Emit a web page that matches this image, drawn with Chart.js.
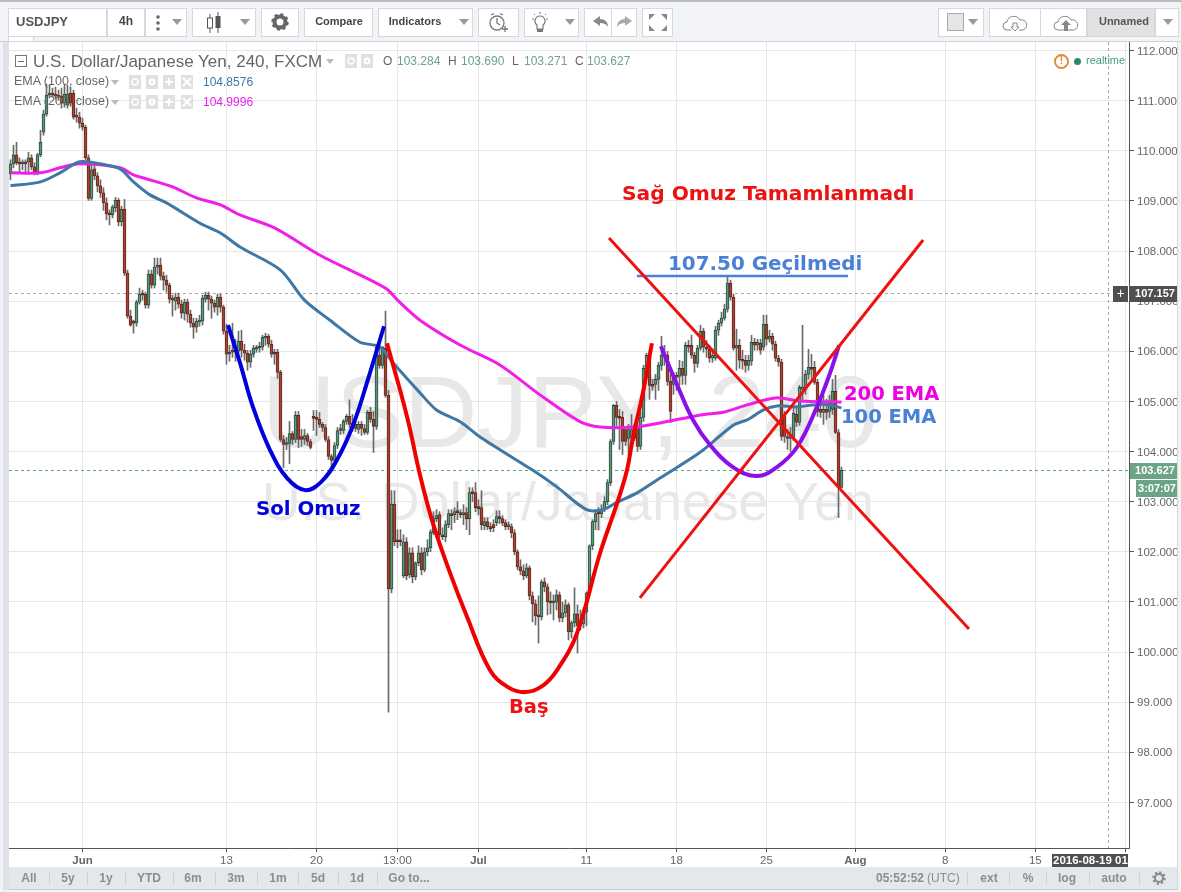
<!DOCTYPE html>
<html><head><meta charset="utf-8">
<script src="https://cdn.jsdelivr.net/npm/chart.js@4"></script>
<style>
html,body{margin:0;padding:0;width:1181px;height:892px;overflow:hidden;background:#f1f3f6;font-family:"Liberation Sans",Arial,sans-serif}
#pane{position:absolute;left:9px;top:42px;width:1169px;height:847px;background:#fff}
canvas{position:absolute;left:0;top:0}
#ui{position:absolute;left:0;top:0;width:1181px;height:892px;pointer-events:none}
#ui div{position:absolute;box-sizing:border-box}
#ui svg{position:absolute}
.t{white-space:nowrap;line-height:1}
</style></head><body>
<div id="pane"></div>
<canvas id="c" width="1181" height="892"></canvas>
<div id="ui"></div>
<script>
const opens=[
109.54,109.74,109.92,109.78,109.74,109.78,109.78,109.86,109.68,109.58,
109.92,110.37,110.73,111.11,111.15,111.13,111.11,111.09,110.95,110.91,
111.15,111.15,110.69,110.67,110.55,110.47,109.86,109.05,109.64,109.50,
109.30,109.16,108.96,108.76,108.72,108.86,109.01,108.58,108.83,107.56,
106.70,106.58,106.56,106.98,107.14,107.14,106.92,107.54,107.32,107.68,
107.72,107.50,107.42,107.32,107.04,107.00,107.08,106.94,106.76,106.98,
106.74,106.56,106.48,106.58,106.60,107.04,107.12,107.04,106.96,106.88,
107.08,106.88,106.40,105.94,106.00,105.98,106.00,106.20,106.02,105.96,
105.78,105.94,106.04,106.06,106.08,106.26,106.30,106.14,105.98,105.98,
105.58,104.24,104.14,104.16,104.36,104.24,104.72,104.30,104.24,104.32,
104.20,104.68,104.68,104.64,104.54,104.48,104.24,103.90,103.82,104.12,
104.46,104.42,104.60,104.70,104.54,104.54,104.44,104.54,104.46,104.38,
104.78,104.64,104.50,105.92,105.72,106.06,105.12,101.26,102.95,102.22,
102.22,101.52,102.20,101.54,101.98,101.50,101.78,101.98,101.64,102.00,
102.08,102.38,102.66,102.74,102.34,102.30,102.54,102.76,102.74,102.80,
102.78,102.74,102.78,102.66,103.18,103.18,102.88,102.88,102.52,102.60,
102.50,102.54,102.58,102.70,102.66,102.58,102.50,102.50,102.38,102.00,
101.70,101.62,101.52,101.68,101.12,100.96,100.72,100.70,101.40,101.30,
101.00,100.98,101.00,101.14,100.68,100.78,100.94,100.40,100.58,100.76,
100.60,100.56,100.80,101.18,102.12,102.60,102.78,102.76,102.84,103.00,
103.38,104.20,104.92,104.68,104.68,104.44,104.26,104.28,104.44,104.50,
104.10,104.68,105.66,105.92,105.34,105.34,105.44,105.72,105.92,105.92,
105.40,105.34,105.50,105.50,105.66,105.52,106.12,106.12,105.92,105.76,
106.06,106.40,106.08,106.04,105.86,105.86,106.42,106.56,106.66,106.84,
107.36,107.08,106.06,106.12,105.84,105.82,105.72,105.80,106.18,106.12,
106.16,106.08,106.54,106.24,106.30,106.14,105.86,105.78,104.70,104.30,
104.26,104.28,104.74,104.58,105.24,105.24,105.54,105.68,105.68,105.38,
104.84,104.78,104.84,104.80,104.84,105.20,104.38,103.284];
const highs=[
109.82,110.11,110.17,109.86,109.82,109.82,109.97,109.92,109.76,109.95,
110.41,110.81,111.33,111.31,111.25,111.27,111.21,111.25,111.33,111.31,
111.27,111.21,110.85,110.77,110.65,110.51,109.92,109.72,109.70,109.56,
109.42,109.26,109.06,108.82,108.92,109.07,109.05,108.89,109.03,107.62,
106.82,106.62,107.02,107.26,107.22,107.18,107.62,107.62,107.86,107.86,
107.86,107.58,107.52,107.36,107.12,107.16,107.16,107.02,107.04,107.04,
106.82,106.66,106.66,106.72,107.12,107.18,107.18,107.10,107.02,107.14,
107.14,106.92,106.54,106.12,106.56,106.24,106.40,106.42,106.14,106.02,
106.02,106.12,106.12,106.18,106.32,106.36,106.34,106.22,106.04,106.04,
105.62,104.32,104.28,104.60,104.40,104.80,104.80,104.44,104.44,104.36,
104.24,104.82,104.82,104.78,104.58,104.54,104.30,103.94,104.18,104.48,
104.54,104.64,104.74,105.03,104.74,104.64,104.60,104.60,104.54,104.82,
104.88,104.80,106.10,106.24,106.10,106.80,105.22,103.22,103.22,102.44,
102.44,102.34,102.28,102.08,102.08,101.80,102.12,102.08,102.08,102.24,
102.44,102.80,102.84,102.80,102.48,102.62,102.84,102.84,102.88,103.00,
102.84,102.94,102.88,103.28,103.28,103.38,103.04,103.22,102.68,102.68,
102.58,102.64,102.82,102.82,102.72,102.64,102.60,102.56,102.44,102.04,
101.84,101.74,101.76,101.72,101.20,101.04,101.12,101.44,101.48,101.36,
101.20,101.14,101.24,101.20,101.00,101.04,100.98,100.62,101.28,100.94,
100.84,100.88,101.20,102.14,102.64,102.84,102.88,102.94,103.10,103.44,
104.24,104.94,105.00,104.84,104.80,104.48,104.54,104.74,104.54,104.64,
104.80,105.72,105.96,106.02,105.44,105.54,105.78,106.30,106.12,106.00,
105.54,105.58,105.58,105.82,105.80,106.18,106.22,106.32,105.98,106.12,
106.52,106.46,106.22,106.12,106.02,106.50,106.62,106.78,106.94,107.48,
107.42,107.14,106.44,106.24,106.02,105.92,105.92,106.32,106.26,106.24,
106.24,106.72,106.72,106.42,106.36,106.20,105.92,105.84,104.80,104.44,
104.48,104.92,104.92,105.32,106.52,105.62,106.04,105.94,105.80,105.44,
105.00,105.12,105.04,105.12,105.44,105.52,104.44,103.69];
const lows=[
109.42,109.66,109.72,109.58,109.62,109.58,109.58,109.62,109.52,109.52,
109.88,110.31,110.69,111.07,111.07,111.03,111.01,110.85,110.87,110.85,
110.89,110.63,110.57,110.45,110.41,109.82,109.01,109.01,109.42,109.18,
109.07,108.81,108.62,108.52,108.66,108.78,108.50,108.50,107.51,106.66,
106.50,106.36,106.50,106.94,107.02,106.86,106.86,107.26,107.26,107.54,
107.42,107.22,107.18,106.96,106.70,106.82,106.86,106.66,106.62,106.58,
106.48,106.26,106.38,106.50,106.52,106.98,106.82,106.66,106.78,106.72,
106.78,106.34,105.74,105.80,105.88,105.80,105.92,105.88,105.82,105.62,
105.68,105.88,105.98,105.98,106.02,106.12,106.08,105.88,105.74,105.46,
104.20,103.68,104.04,103.76,104.14,104.18,104.08,104.10,104.14,104.12,
104.05,104.42,104.32,104.48,104.40,104.20,103.84,103.68,103.76,104.06,
104.34,104.36,104.54,104.48,104.40,104.40,104.36,104.32,104.34,104.34,
104.58,103.98,104.44,105.66,105.66,105.08,98.80,101.18,102.12,102.08,
102.12,101.48,101.44,101.48,101.38,101.44,101.72,101.54,101.60,101.92,
102.00,102.34,102.60,102.28,102.24,102.20,102.48,102.44,102.58,102.64,
102.68,102.54,102.44,102.34,103.00,102.80,102.74,102.44,102.44,102.44,
102.40,102.40,102.52,102.56,102.52,102.44,102.44,102.28,101.94,101.64,
101.54,101.44,101.48,101.04,100.60,100.54,100.18,100.64,101.20,100.74,
100.76,100.64,100.84,100.60,100.60,100.70,100.24,100.28,100.50,99.98,
100.44,100.48,100.52,101.12,102.04,102.44,102.44,102.68,102.80,102.94,
103.32,104.14,104.46,104.04,103.94,104.12,103.92,104.14,104.22,104.00,
104.04,104.60,105.58,105.04,105.22,105.04,105.22,105.62,105.72,105.32,
104.58,105.14,105.22,105.32,105.34,105.34,105.98,105.86,105.58,105.68,
106.02,105.98,105.88,105.78,105.78,105.82,106.32,106.50,106.62,106.78,
107.02,106.02,105.62,105.66,105.64,105.58,105.62,105.72,106.02,106.02,
105.94,106.02,106.12,106.18,106.02,105.80,105.70,104.22,104.18,104.04,
104.00,104.22,104.50,104.52,105.02,105.14,105.44,105.46,105.34,104.70,
104.68,104.54,104.64,104.68,104.74,104.36,102.68,103.271];
const closes=[
109.74,109.92,109.76,109.74,109.78,109.74,109.86,109.68,109.58,109.92,
110.17,110.73,111.11,111.15,111.11,111.09,111.07,110.95,111.13,111.13,
110.95,110.67,110.67,110.55,110.47,109.86,109.05,109.62,109.50,109.30,
109.16,108.96,108.74,108.72,108.88,109.01,108.58,108.83,107.56,106.70,
106.52,106.56,106.98,107.14,107.12,106.92,107.54,107.32,107.68,107.72,
107.50,107.42,107.32,107.04,107.02,107.08,106.94,106.76,106.98,106.74,
106.56,106.48,106.60,106.62,107.06,107.12,107.04,106.96,106.88,107.08,
106.88,106.40,105.94,105.98,105.98,106.00,106.20,106.02,105.96,105.78,
105.94,106.06,106.08,106.08,106.28,106.30,106.14,105.94,105.94,105.58,
104.24,104.14,104.18,104.36,104.24,104.72,104.24,104.24,104.32,104.20,
104.08,104.66,104.64,104.54,104.48,104.24,103.90,103.82,104.12,104.42,
104.42,104.60,104.70,104.54,104.52,104.46,104.54,104.46,104.38,104.78,
104.64,104.50,106.08,105.72,106.08,105.12,101.26,102.95,102.20,102.20,
102.20,102.20,101.52,101.98,101.50,101.78,101.98,101.64,102.00,102.08,
102.40,102.66,102.72,102.34,102.30,102.54,102.76,102.72,102.80,102.78,
102.74,102.78,102.66,103.18,103.16,102.88,102.86,102.54,102.60,102.50,
102.46,102.48,102.70,102.66,102.58,102.50,102.52,102.38,102.00,101.70,
101.62,101.52,101.68,101.12,100.96,100.72,100.70,101.40,101.30,101.00,
100.98,101.00,101.14,100.68,100.78,100.94,100.40,100.58,100.76,100.52,
100.52,100.80,101.18,102.12,102.60,102.76,102.76,102.84,103.00,103.38,
104.20,104.92,104.68,104.66,104.20,104.20,104.44,104.44,104.26,104.10,
104.68,105.66,105.92,105.32,105.30,105.44,105.72,105.92,105.90,105.40,
104.80,105.50,105.48,105.66,105.52,106.12,106.08,105.92,105.76,106.06,
106.40,106.08,106.04,105.86,105.92,106.42,106.56,106.66,106.84,107.36,
107.08,106.06,106.12,105.82,105.80,105.72,105.82,106.18,106.12,106.18,
106.02,106.54,106.24,106.30,106.14,105.86,105.78,104.30,104.30,104.26,
104.32,104.76,104.58,105.28,105.28,105.54,105.68,105.64,105.38,104.80,
104.78,104.84,104.78,105.00,105.20,104.38,103.30,103.627];

const ema100Bars=[0,10,16.5,23,30,36.5,41,46.5,52,63,70,76.5,90,98,106.5,116.5,123,127.5,136.5,142,150,156.5,174,182,192,197.5,202,209,216.5,230,241,245.5,251,255.5,262,267.5,273,277];
const ema100Vals=[109.30,109.38,109.56,109.78,109.74,109.64,109.38,109.12,108.96,108.56,108.36,108.08,107.62,107.02,106.62,106.18,106.09,105.77,105.17,104.83,104.59,104.29,103.63,103.30,102.84,102.84,102.98,103.18,103.47,103.99,104.53,104.63,104.83,104.91,104.89,104.93,104.93,104.87];
const ema200Bars=[0,10,16.5,23,36.5,41,46.5,54,62,70,76.5,88,103,125,129,136.5,150,163,176.5,190,196.5,208,216.5,230,238,245.5,255,263,277];
const ema200Vals=[109.56,109.56,109.66,109.74,109.66,109.52,109.42,109.28,109.06,108.92,108.72,108.46,107.92,107.26,107.02,106.62,106.12,105.73,105.13,104.59,104.49,104.49,104.57,104.73,104.79,104.93,105.07,105.01,104.99];

const solBars=[72.5,76.5,80.8,86.5,92.2,98.2,103.5,108.8,114.2,118.8,124.5];
const solVals=[106.52,105.77,104.89,104.03,103.47,103.23,103.39,103.83,104.53,105.37,106.50];
const basBars=[125.5,132.2,136.5,140.8,146.5,152.2,159.8,165.8,171.5,177.2,182.2,188.8,196.5,202.2,205.5,207.5,210.8,213.8];
const basVals=[106.16,104.69,103.53,102.57,101.58,100.70,99.64,99.30,99.20,99.32,99.64,100.37,101.97,102.97,103.63,104.29,105.17,106.16];
const sagBars=[216.8,222.2,227.5,233.2,240.8,248.8,255.5,262.2,268.8,273.2,276.2];
const sagVals=[106.10,105.33,104.63,104.13,103.69,103.51,103.69,104.09,104.89,105.57,106.12];
const crossDownBars=[199.5,319.5], crossDownVals=[108.26,100.46];
const crossUpBars=[209.8,304.2], crossUpVals=[101.08,108.22];
const levelBars=[208.8,279.2], levelVals=[107.50,107.50];

const yTickValues=[97,98,99,100,101,102,103,104,105,106,107,108,109,110,111,112];
const xTickValues=[24,72,102,129,156,192,222,252,281.6,311.6,341.6,371.8];
const xTickLabels=["Jun","13","20","13:00","Jul","11","18","25","Aug","8","15",""];
const boldTicks=["Jun","Jul","Aug"];

const noteTexts=["Sağ Omuz Tamamlanmadı","107.50 Geçilmedi","200 EMA","100 EMA","Sol Omuz","Baş"];
const noteColors=["#ee1111","#4a80d6","#f000e0","#4a80d6","#0000dd","#ee1111"];
const crossX=365.8, crossY=107.157, lastPrice=103.627;

const pts=(a,b)=>a.map((x,i)=>({x,y:b[i]}));
const lineDs=(xs,ys,color,w,tension,order)=>({type:'line',data:pts(xs,ys),borderColor:color,borderWidth:w,pointRadius:0,tension,order,fill:false});
const idx=opens.map((_,i)=>i);
const up=idx.map(i=>closes[i]>=opens[i]);

const overlays={
 id:'overlays',
 beforeDatasetsDraw(ch){
  const c=ch.ctx,{left,right,top,bottom}=ch.chartArea,xs=ch.scales.x,ys=ch.scales.y;
  c.save();c.beginPath();c.rect(left,top,right-left,bottom-top);c.clip();
  c.fillStyle='#e8e8e8';c.textAlign='left';c.textBaseline='alphabetic';
  c.font='102px "Liberation Sans"';c.fillText('USDJPY, 240',262,447);
  c.font='53.6px "Liberation Sans"';c.fillText('U.S. Dollar/Japanese Yen',262,520);
  c.setLineDash([3,3]);c.lineWidth=1;
  c.strokeStyle='#a8a8a8';
  let y=Math.round(ys.getPixelForValue(crossY))+.5;c.beginPath();c.moveTo(left,y);c.lineTo(right,y);c.stroke();
  let x=Math.round(xs.getPixelForValue(crossX))+.5;c.beginPath();c.moveTo(x,top);c.lineTo(x,bottom);c.stroke();
  c.strokeStyle='#5f9f82';
  y=Math.round(ys.getPixelForValue(lastPrice))+.5;c.beginPath();c.moveTo(left,y);c.lineTo(right,y);c.stroke();
  c.restore();
 },
 afterDraw(ch){
  const c=ch.ctx;c.save();
  c.textBaseline='middle';c.textAlign='left';
  const pos=[[622,195],[668,265],[844,395],[841,418],[256,510],[509,708]],sz=[20.2,19.9,19.5,19.5,19.8,19.5];
  noteTexts.forEach((t,i)=>{c.font=`bold ${sz[i]}px "DejaVu Sans"`;c.fillStyle=noteColors[i];c.fillText(t,pos[i][0],pos[i][1]);});
  c.restore();
 }
};

new Chart(document.getElementById('c'),{
 type:'bar',
 data:{datasets:[
  lineDs(crossDownBars,crossDownVals,'#ee1111',3,0,1),
  lineDs(crossUpBars,crossUpVals,'#ee1111',3,0,1),
  lineDs(levelBars,levelVals,'#4a80d6',2.5,0,1),
  lineDs(sagBars,sagVals,'#8a10e8',4,.4,1),
  lineDs(basBars,basVals,'#f00000',4,.4,1),
  lineDs(solBars,solVals,'#0000dd',4,.4,1),
  lineDs(ema100Bars,ema100Vals,'#3e78a6',3,.3,2),
  lineDs(ema200Bars,ema200Vals,'#f01ee8',3,.3,3),
  {data:idx.map(i=>({x:i,y:[opens[i],closes[i]]})),grouped:false,barThickness:3,minBarLength:2,borderWidth:1,borderSkipped:false,
   backgroundColor:up.map(u=>u?'#5a9a7a':'#b0402f'),borderColor:up.map(u=>u?'#2c4a3c':'#5a2a20'),order:4},
  {data:idx.map(i=>({x:i,y:[lows[i],highs[i]]})),grouped:false,barThickness:1,borderWidth:0,backgroundColor:'#6a6a6a',order:5}
 ]},
 options:{
  responsive:false,animation:false,events:[],
  layout:{padding:{left:9,top:42,right:0,bottom:0}},
  plugins:{legend:{display:false},tooltip:{enabled:false}},
  scales:{
   x:{type:'linear',min:-.5,max:372.83,offset:false,
    afterFit(s){s.height=44},
    afterBuildTicks(s){s.ticks=xTickValues.map(v=>({value:v}))},
    grid:{color:'#e6e6e6',tickColor:'#555',tickLength:4,offset:false},
    border:{color:'#555',width:1},
    ticks:{autoSkip:false,maxRotation:0,padding:2,color:'#666',
     callback:(v,i)=>xTickLabels[i],
     font:ctx=>({family:'"Liberation Sans"',size:11.5,weight:boldTicks.includes(xTickLabels[ctx.index])?'bold':'normal'})}},
   y:{position:'right',min:96.09,max:112.17,
    afterFit(s){s.width=52},
    afterBuildTicks(s){s.ticks=yTickValues.map(v=>({value:v}))},
    grid:{color:'#e6e6e6',tickColor:'#555',tickLength:5},
    border:{color:'#555',width:1},
    ticks:{autoSkip:false,padding:3,labelOffset:1,color:'#666',callback:v=>v.toFixed(3),font:{family:'"Liberation Sans"',size:11.5}}}
  }
 },
 plugins:[overlays]
});

/* page chrome: toolbars, legend, price badges */
const ui=document.getElementById('ui');
function box(x,y,w,h,style){const d=document.createElement('div');d.style.cssText=`left:${x}px;top:${y}px;width:${w}px;height:${h}px;${style||''}`;ui.appendChild(d);return d;}
function text(s,x,cy,size,color,extra){const d=document.createElement('div');d.className='t';d.textContent=s;d.style.cssText=`left:${x}px;top:${cy-size/2-.5}px;font-size:${size}px;color:${color};${extra||''}`;ui.appendChild(d);return d;}
function mid(s,cx,cy,size,color,extra){return text(s,cx,cy,size,color,'transform:translateX(-50%);'+(extra||''));}
function svg(x,y,w,h,inner){const n=document.createElement('div');n.style.cssText=`left:${x}px;top:${y}px;width:${w}px;height:${h}px`;n.innerHTML=`<svg width="${w}" height="${h}" viewBox="0 0 ${w} ${h}">${inner}</svg>`;ui.appendChild(n);}
const BTN='background:#fff;border:1px solid #d5d8dd;';
box(0,0,1181,2,'background:#b9bbbe');
box(3,42,6,848,'background:#dfe3e8');
box(0,41,1181,1,'background:#cfd2d6');
box(8,36,26,6,'background:#fff;border:1px solid #d5d8dd');
[[8,99],[107,38],[145,42],[192,64],[261,38],[304,69],[378,95],[478,41],[524,55],[584,53],[642,31],[938,46],[989,98],[1087,92]].forEach(b=>box(b[0],8,b[1],29,BTN));
text('USDJPY',16,22,13,'#555','font-weight:bold');
mid('4h',126,21.5,12,'#444','font-weight:bold');
mid('Compare',339,22,11,'#444','font-weight:bold');
mid('Indicators',415,22,11,'#444','font-weight:bold');
box(1087,8,68,29,'background:#e2e2e2;border:1px solid #d5d8dd');
mid('Unnamed',1124,21.5,11,'#555','font-weight:bold');
box(1155,8,24,29,BTN);
const caret=x=>svg(x,19,10,6,'<path d="M0 0h10L5 6z" fill="#999"/>');
[172,240,459,565,968,1163].forEach(caret);
svg(155,14,6,18,'<circle cx="3" cy="3" r="1.8" fill="#666"/><circle cx="3" cy="9" r="1.8" fill="#666"/><circle cx="3" cy="15" r="1.8" fill="#666"/>');
svg(205,12,18,22,'<path d="M5 2v19M13 0v21" stroke="#555"/><rect x="2.5" y="6" width="5" height="10" fill="#fff" stroke="#555"/><rect x="10.5" y="4" width="5" height="12" fill="#555"/>');
svg(271,13,18,18,'<circle cx="9" cy="9" r="5.5" fill="none" stroke="#666" stroke-width="4"/><circle cx="9" cy="9" r="7.5" fill="none" stroke="#666" stroke-width="2.5" stroke-dasharray="3 2.9"/>');
svg(488,12,20,22,'<circle cx="9" cy="11" r="7" fill="none" stroke="#777" stroke-width="1.3"/><path d="M9 6v5l3 2M3 3l3-1.5M15 3l-3-1.5M14 17h6M17 14v6" stroke="#777" fill="none" stroke-width="1.3"/>');
svg(531,12,18,22,'<path d="M9 4a5 5 0 0 0-3 9v4h6v-4a5 5 0 0 0-3-9z" fill="none" stroke="#777" stroke-width="1.2"/><rect x="6" y="17" width="6" height="3" fill="#777"/><path d="M9 0v2M1 7h2M15 7h2M3 2l1 1M15 2l-1 1" stroke="#777"/>');
svg(593,15,16,13,'<path d="M0 6l7-5v3c5 0 8 3 8 8-2-3-4-4-8-4v3z" fill="#888"/>');
box(611,8,1,29,'background:#d5d8dd');
svg(616,15,16,13,'<path d="M16 6L9 1v3C4 4 1 7 1 12c2-3 4-4 8-4v3z" fill="#aaa"/>');
svg(649,14,18,17,'<path d="M0 0h6L0 6zM18 0h-6l6 6zM0 17h6L0 11zM18 17h-6l6-6z" fill="#888"/>');
box(947,13,17,18,'background:#e5e5e5;border:1px solid #aaa');
box(1040,8,1,29,'background:#d5d8dd');
svg(1002,15,26,17,'<path d="M5 15a4 4 0 0 1 0-8 7 7 0 0 1 13-2 5 5 0 0 1 3 10h-4M9 15H5" fill="none" stroke="#888"/><path d="M11 8h4v4h2l-4 4-4-4h2z" fill="#fff" stroke="#888"/>');
svg(1053,15,26,17,'<path d="M5 15a4 4 0 0 1 0-8 7 7 0 0 1 13-2 5 5 0 0 1 3 10z" fill="#fff" stroke="#888"/><path d="M13 5l5 5h-3v6h-4v-6H8z" fill="#888"/>');
/* legend */
box(15,55,12,12,'border:1px solid #777');box(18,60.5,6,1,'background:#777');
text('U.S. Dollar/Japanese Yen, 240, FXCM',33,61.5,17,'#666');
const glyphs=['<circle cx="6" cy="7" r="3" fill="none" stroke="#fff" stroke-width="1.5"/>','<circle cx="6" cy="7" r="3.4" fill="#fff"/><circle cx="6" cy="7" r="1.2" fill="#e0e0e0"/>','<path d="M6 3v8M2 7h8" stroke="#fff" stroke-width="2"/>','<path d="M2 3l8 8M10 3l-8 8" stroke="#fff" stroke-width="2"/>'];
const grey=(x,y,g)=>{box(x,y,12,14,'background:#e0e0e0');svg(x,y,12,14,glyphs[g]);};
svg(326,59,8,5,'<path d="M0 0h8L4 5z" fill="#bbb"/>');
grey(345,54,0);grey(361,54,1);
[['O',383,'#666'],['103.284',397,'#6fa487'],['H',448,'#666'],['103.690',461,'#6fa487'],['L',512,'#666'],['103.271',524,'#6fa487'],['C',575,'#666'],['103.627',587,'#6fa487']].forEach(a=>text(a[0],a[1],61.5,12,a[2]));
[[82,'EMA (100, close)','104.8576','#3e78a6'],[102,'EMA (200, close)','104.9996','#e81ee8']].forEach(r=>{
 text(r[1],14,r[0],12.5,'#666');
 svg(111,r[0]-2,8,5,'<path d="M0 0h8L4 5z" fill="#bbb"/>');
 [129,146,163,181].forEach((x,g)=>grey(x,r[0]-7,g));
 text(r[2],203,r[0]+.5,12,r[3]);
});
/* realtime */
box(1054,54,15,15,'border:2px solid #e58a2c;border-radius:50%');
mid('!',1061.5,61,10,'#e58a2c','font-weight:bold');
box(1074,58,7,7,'background:#2e8b62;border-radius:50%');
text('realtime',1086,61,11,'#4a9a78');
/* price badges */
box(1113,286,15,16,'background:#4f4f4f');mid('+',1120.5,293.5,14,'#fff');
box(1130,286,48,16,'background:#4f4f4f');mid('107.157',1155,294,11,'#fff','font-weight:bold');
box(1130,463,48,16,'background:#6ba585');mid('103.627',1155,471,11,'#fff','font-weight:bold');
box(1136,480,42,17,'background:#6ba585');mid('3:07:07',1157,488.5,11,'#fff','font-weight:bold');
const dt=box(1052,854,76,13,'background:#4f4f4f;overflow:hidden');
const dtt=document.createElement('div');dtt.className='t';dtt.textContent='2016-08-19 01:00';dtt.style.cssText='left:1px;top:1px;font-size:11.5px;color:#fff;font-weight:bold';dt.appendChild(dtt);
/* bottom bar */
box(9,867,1169,22,'background:#e4e8ed');
box(9,889,1169,1,'background:#c9ccd1');
[['All',29],['5y',68],['1y',106],['YTD',149],['6m',193],['3m',236],['1m',278],['5d',318],['1d',357],['Go to...',409]].forEach(a=>mid(a[0],a[1],878,12,'#8a8d91','font-weight:bold'));
[49,87,125,173,215,257,298,338,377,967,1009,1046,1089,1139].forEach(x=>box(x,872,1,13,'background:#cfd2d6'));
text('05:52:52',876,878,12,'#8a8d91','font-weight:bold');
text('(UTC)',927,878,12,'#8a8d91');
[['ext',989],['%',1028],['log',1067],['auto',1114]].forEach(a=>mid(a[0],a[1],878,12,'#8a8d91','font-weight:bold'));
svg(1152,871,14,14,'<circle cx="7" cy="7" r="4" fill="none" stroke="#888" stroke-width="2"/><circle cx="7" cy="7" r="5.7" fill="none" stroke="#888" stroke-width="2" stroke-dasharray="2.2 2.2"/>');
box(1177,42,1,848,'background:#d5d8dd');
</script>
</body></html>
